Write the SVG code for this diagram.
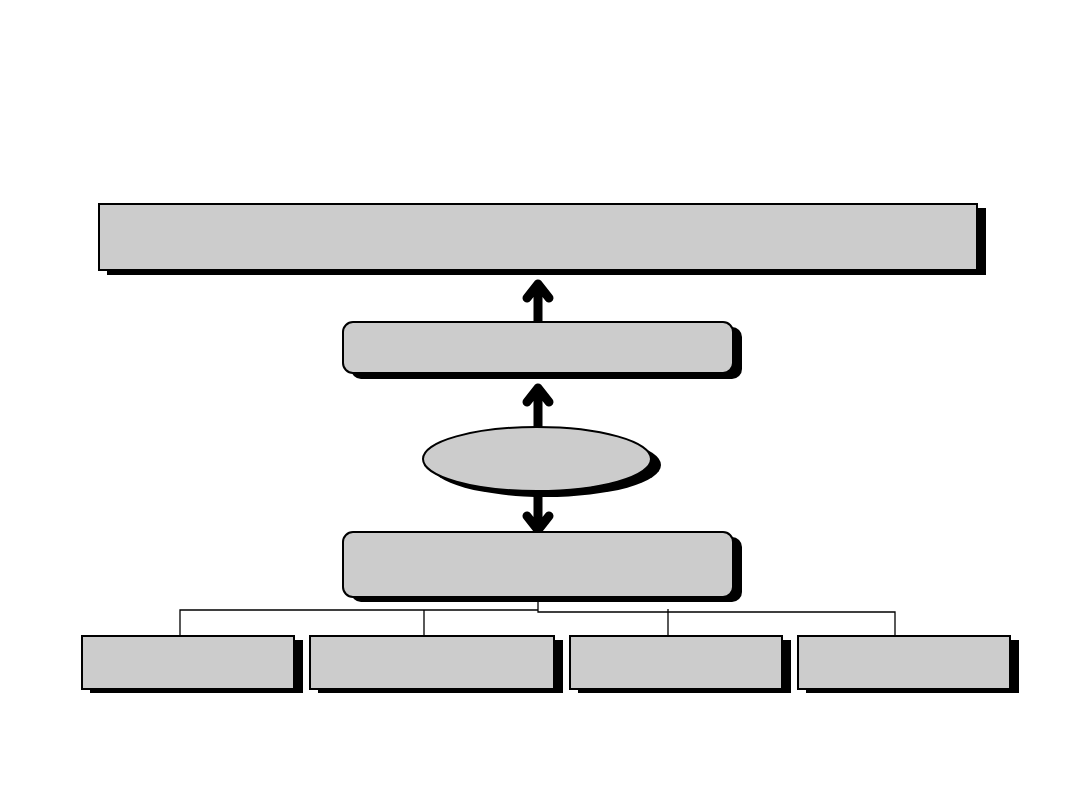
<svg xmlns="http://www.w3.org/2000/svg" width="1080" height="810" viewBox="0 0 1080 810">
<style>
.sh{fill:#000}
.bx{fill:#cccccc;stroke:#000;stroke-width:2}
.arr{fill:none;stroke:#000;stroke-width:9;stroke-linecap:round;stroke-linejoin:round}
.ln{fill:none;stroke:#000;stroke-width:1.3}
</style>
<rect width="1080" height="810" fill="#fff"/>
<g id="connectors">
<path class="arr" d="M538,321 V284 M527,298 L538,284 L549,298"/>
<path class="arr" d="M538,426 V388 M527,402 L538,388 L549,402"/>
<path class="arr" d="M538,494 V530 M527,516 L538,530 L549,516"/>
<path class="ln" d="M538,598 V612 H895 V636 M668,609 V636 M538,610 H180 V636 M424,610 V636"/>
</g>
<g id="top-box">
<rect class="sh" x="107" y="208" width="879" height="67"/>
<rect class="bx" x="99" y="204" width="878" height="66"/>
</g>
<g id="middle-box">
<rect class="sh" x="351" y="327" width="391" height="52" rx="10"/>
<rect class="bx" x="343" y="322" width="390" height="51" rx="10"/>
</g>
<g id="ellipse-node">
<ellipse class="sh" cx="546" cy="465" rx="115" ry="32"/>
<ellipse class="bx" cx="537" cy="459" rx="114" ry="32"/>
</g>
<g id="lower-box">
<rect class="sh" x="351" y="537" width="391" height="65" rx="10"/>
<rect class="bx" x="343" y="532" width="390" height="65" rx="10"/>
</g>
<g id="leaf-1">
<rect class="sh" x="90" y="640" width="213" height="53"/>
<rect class="bx" x="82" y="636" width="212" height="53"/>
</g>
<g id="leaf-2">
<rect class="sh" x="318" y="640" width="245" height="53"/>
<rect class="bx" x="310" y="636" width="244" height="53"/>
</g>
<g id="leaf-3">
<rect class="sh" x="578" y="640" width="213" height="53"/>
<rect class="bx" x="570" y="636" width="212" height="53"/>
</g>
<g id="leaf-4">
<rect class="sh" x="806" y="640" width="213" height="53"/>
<rect class="bx" x="798" y="636" width="212" height="53"/>
</g>
</svg>
